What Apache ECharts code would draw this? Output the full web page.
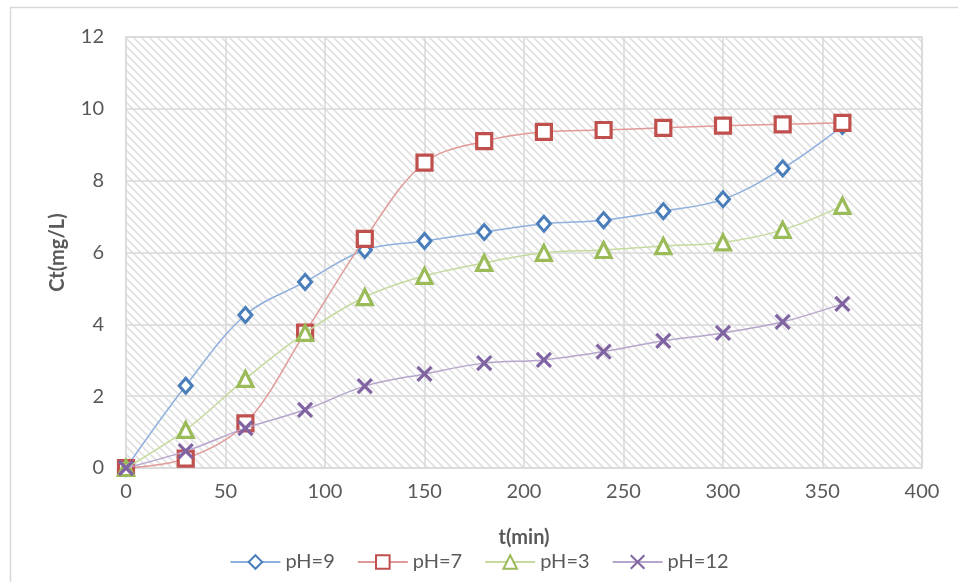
<!DOCTYPE html>
<html>
<head>
<meta charset="utf-8">
<script src="https://cdn.jsdelivr.net/npm/echarts@6/dist/echarts.min.js"></script>
<style>
  html, body { margin: 0; padding: 0; background: #fff; }
  #chart { width: 958px; height: 582px; }
</style>
</head>
<body>
<div id="chart"></div>
<script>
// Sampling times (min)
const times = [0, 30, 60, 90, 120, 150, 180, 210, 240, 270, 300, 330, 360];

// Concentration Ct (mg/L) for each pH
const ph9  = [0, 2.29, 4.26, 5.18, 6.07, 6.32, 6.57, 6.80, 6.90, 7.15, 7.48, 8.34, 9.52];
const ph7  = [0, 0.26, 1.24, 3.77, 6.38, 8.50, 9.10, 9.36, 9.41, 9.47, 9.53, 9.57, 9.61];
const ph3  = [0, 1.06, 2.48, 3.76, 4.76, 5.35, 5.71, 5.99, 6.07, 6.18, 6.28, 6.63, 7.30];
const ph12 = [0, 0.47, 1.11, 1.62, 2.28, 2.62, 2.92, 3.01, 3.24, 3.54, 3.76, 4.07, 4.57];

const seriesNames = ['pH=9', 'pH=7', 'pH=3', 'pH=12'];

const FONT = 'Lato, "Open Sans", sans-serif';
const TEXT = '#595959';

// Diagonal hatch fill for the plot area
function hatch() {
  const c = document.createElement('canvas');
  const s = 8;
  c.width = s; c.height = s;
  const g = c.getContext('2d');
  g.fillStyle = '#ffffff';
  g.fillRect(0, 0, s, s);
  g.strokeStyle = '#e2e2e2';
  g.lineWidth = 1.8;
  for (const k of [-s, 0, s]) {
    g.beginPath();
    g.moveTo(k - 1, -1);
    g.lineTo(k + s + 1, s + 1);
    g.stroke();
  }
  return c;
}

function pairs(vals) { return times.map((t, i) => [t, vals[i]]); }

const styles = [
  { data: ph9,  mark: '#4a7ebb', line: '#8fb0dc', symbol: 'diamond', size: [13, 15], bw: 3 },
  { data: ph7,  mark: '#c0504d', line: '#e09a98', symbol: 'rect',    size: 15, bw: 3.2 },
  { data: ph3,  mark: '#9bbb59', line: '#c5da9e', symbol: 'triangle', size: 15, bw: 3.2 },
  { data: ph12, mark: '#8064a2', line: '#b6a5cc', symbol: 'path://M0,0L10,10M10,0L0,10', size: 14, bw: 3.2 }
];

const chart = echarts.init(document.getElementById('chart'), null, { renderer: 'canvas' });

chart.setOption({
  animation: false,
  backgroundColor: '#ffffff',
  textStyle: { fontFamily: FONT },
  graphic: [{
    type: 'rect',
    shape: { x: 10.5, y: 7.5, width: 960, height: 590 },
    style: { fill: 'none', stroke: '#d9d9d9', lineWidth: 1.5 },
    silent: true, z: -10
  }],
  grid: {
    left: 126, right: 36, top: 37, bottom: 114,
    show: true,
    backgroundColor: { image: hatch(), repeat: 'repeat' },
    borderColor: '#d9d9d9', borderWidth: 1.5
  },
  legend: {
    bottom: 5, left: 'center',
    itemWidth: 50, itemHeight: 17, itemGap: 22,
    textStyle: { color: TEXT, fontSize: 20, fontFamily: FONT },
    data: seriesNames
  },
  xAxis: {
    type: 'value', min: 0, max: 400, interval: 50,
    name: 't(min)', nameLocation: 'middle', nameGap: 60,
    nameTextStyle: { color: TEXT, fontSize: 20, fontWeight: 'bold', fontFamily: FONT },
    axisLine: { show: false }, axisTick: { show: false },
    axisLabel: { color: TEXT, fontSize: 20, margin: 14, fontFamily: FONT },
    splitLine: { show: true, lineStyle: { color: '#d9d9d9', width: 1.5 } }
  },
  yAxis: {
    type: 'value', min: 0, max: 12, interval: 2,
    name: 'Ct(mg/L)', nameLocation: 'middle', nameGap: 58,
    nameTextStyle: { color: TEXT, fontSize: 20, fontWeight: 'bold', fontFamily: FONT },
    axisLine: { show: false }, axisTick: { show: false },
    axisLabel: { color: TEXT, fontSize: 20, margin: 22, fontFamily: FONT },
    splitLine: { show: true, lineStyle: { color: '#d9d9d9', width: 1.5 } }
  },
  series: styles.map((s, i) => ({
    name: seriesNames[i],
    type: 'line',
    data: pairs(s.data),
    smooth: 0.35,
    symbol: s.symbol,
    symbolSize: s.size,
    showAllSymbol: true,
    lineStyle: { color: s.line, width: 1.5 },
    itemStyle: {
      color: i === 3 ? 'none' : '#ffffff',
      borderColor: s.mark,
      borderWidth: s.bw
    },
    z: 2 + i
  }))
});
</script>
</body>
</html>
